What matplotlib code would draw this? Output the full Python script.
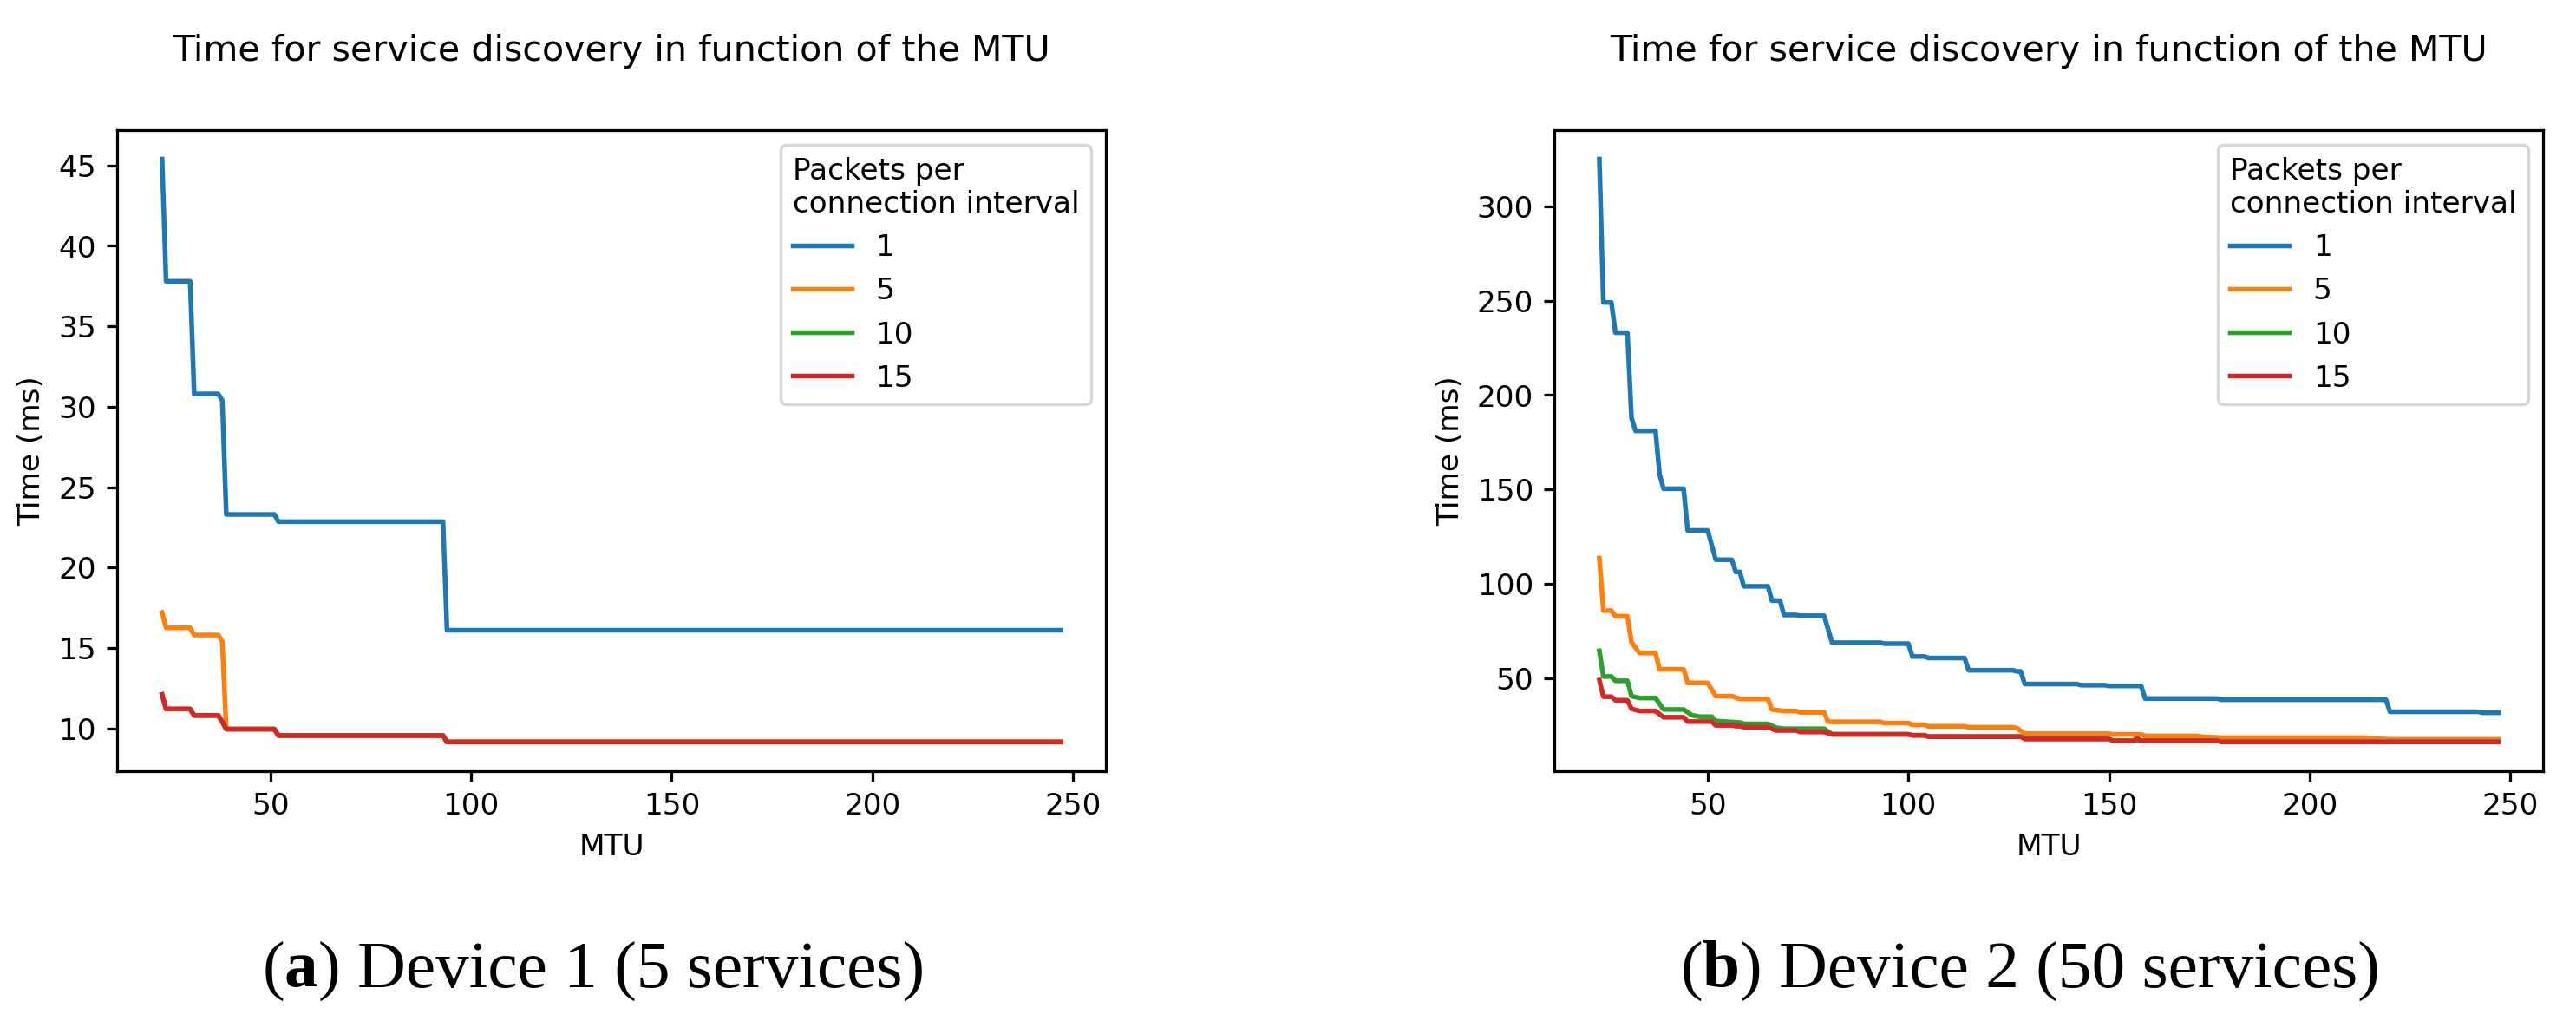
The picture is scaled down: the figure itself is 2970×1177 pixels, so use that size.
import matplotlib
matplotlib.use("Agg")
import matplotlib.pyplot as plt
from matplotlib.transforms import IdentityTransform

# ---------------- data ----------------
legend_title = "Packets per\nconnection interval"
series_labels = ["1", "5", "10", "15"]
plot_title = "Time for service discovery in function of the MTU"
x_label = "MTU"
y_label = "Time (ms)"
captions = [("a", ") Device 1 (5 services)"), ("b", ") Device 2 (50 services)")]

# Device 1 (5 services)
d1_mtu_1 = [23, 24, 30, 31, 37, 38, 39, 51, 52, 93, 94, 247]
d1_time_1 = [45.4, 37.8, 37.8, 30.8, 30.8, 30.4, 23.3, 23.3, 22.85, 22.85, 16.1, 16.1]
d1_mtu_5 = [23, 24, 30, 31, 37, 38, 39, 51, 52, 93, 94, 247]
d1_time_5 = [17.2, 16.25, 16.25, 15.8, 15.8, 15.4, 9.95, 9.95, 9.55, 9.55, 9.15, 9.15]
d1_mtu_10 = [23, 24, 30, 31, 37, 38, 39, 51, 52, 93, 94, 247]
d1_time_10 = [12.1, 11.2, 11.2, 10.8, 10.8, 10.4, 9.95, 9.95, 9.55, 9.55, 9.15, 9.15]
d1_mtu_15 = [23, 24, 30, 31, 37, 38, 39, 51, 52, 93, 94, 247]
d1_time_15 = [12.1, 11.2, 11.2, 10.8, 10.8, 10.4, 9.95, 9.95, 9.55, 9.55, 9.15, 9.15]

# Device 2 (50 services)
d2_mtu_1 = [23, 24, 26, 27, 30, 31, 32, 37, 38, 39, 44, 45, 50, 52, 56, 57,
            58, 59, 65, 66, 68, 69, 72, 73, 79, 81, 93, 94, 100, 101, 104, 105,
            114, 115, 126, 127, 128, 129, 142, 143, 149, 150, 158, 159, 177, 178,
            219, 220, 242, 243, 247]
d2_time_1 = [325, 249, 249, 233, 233, 188, 181, 181, 158, 150.3, 150.3, 128.2, 128.2, 112.7, 112.7, 106.2,
             106.2, 98.6, 98.6, 91, 91, 83.4, 83.4, 83, 83, 68.7, 68.7, 68.2, 68.2, 61.4, 61.4, 60.6,
             60.6, 54.1, 54.1, 53.5, 53.5, 46.8, 46.8, 46.2, 46.2, 45.8, 45.8, 39.1, 39.1, 38.5,
             38.5, 32.1, 32.1, 31.6, 31.6]
d2_mtu_5 = [23, 24, 26, 27, 30, 31, 33, 37, 38, 44, 45, 50, 52, 56, 58, 65,
            66, 69, 72, 73, 79, 80, 93, 94, 100, 101, 104, 105, 114, 115, 126, 127,
            129, 150, 151, 158, 159, 172, 173, 178, 214, 215, 220, 247]
d2_time_5 = [113.5, 85.7, 85.7, 82.7, 82.7, 69, 63.2, 63.2, 54.6, 54.6, 47.4, 47.4, 40.4, 40.4, 38.9, 38.9,
             33.3, 32.5, 32.5, 31.8, 31.8, 26.8, 26.8, 26.1, 26.1, 25.2, 25.2, 24.4, 24.4, 23.9, 23.9, 23.5,
             20.5, 20.5, 20.1, 20.1, 19.3, 19.3, 18.9, 18.4, 18.4, 18.0, 17.5, 17.5]
d2_mtu_10 = [23, 24, 26, 27, 30, 31, 33, 37, 39, 44, 46, 48, 51, 52, 58, 59,
             65, 67, 69, 79, 81, 100, 101, 104, 105, 128, 129, 150, 151, 177, 178, 247]
d2_time_10 = [64.4, 50.8, 50.8, 48.5, 48.5, 40.4, 39.4, 39.4, 33.3, 33.3, 30.3, 29.5, 29.5, 27.2, 26.4, 25.7,
              25.7, 23.7, 23.1, 23.1, 20.2, 20.2, 19.7, 19.7, 19.0, 19.0, 17.8, 17.8, 16.8, 16.8, 16.2, 16.2]
d2_mtu_15 = [23, 24, 26, 27, 30, 31, 33, 37, 39, 44, 45, 51, 52, 56, 57, 58,
             59, 65, 67, 72, 73, 79, 81, 100, 101, 104, 105, 128, 129, 150, 151, 156,
             157, 158, 177, 178, 247]
d2_time_15 = [48.9, 40.1, 40.1, 38.2, 38.2, 33.7, 32.5, 32.5, 29.2, 29.2, 26.9, 26.9, 24.9, 24.9, 24.5, 24.5,
              23.9, 23.9, 22.2, 22.2, 21.4, 21.4, 20.1, 20.1, 19.6, 19.6, 18.9, 18.9, 17.7, 17.7, 16.7, 16.7,
              18.1, 16.7, 16.7, 16.1, 16.1]

devices = [
    [(d1_mtu_1, d1_time_1), (d1_mtu_5, d1_time_5), (d1_mtu_10, d1_time_10), (d1_mtu_15, d1_time_15)],
    [(d2_mtu_1, d2_time_1), (d2_mtu_5, d2_time_5), (d2_mtu_10, d2_time_10), (d2_mtu_15, d2_time_15)],
]

# ---------------- figure ----------------
W, H = 2970, 1177
DPI = 247
plt.rcParams["axes.linewidth"] = 0.95
plt.rcParams["xtick.major.width"] = 0.95
plt.rcParams["ytick.major.width"] = 0.95
fig = plt.figure(figsize=(W / DPI + 0.001, H / DPI + 0.001), dpi=DPI)

axes_px = [(135, 150, 1275, 889), (1792, 150, 2932, 889)]  # left, top, right, bottom
caption_cx = [684, 2341]
caption_baseline = 1137

colors = ["C0", "C1", "C2", "C3"]

for dev, (l, t, r, b) in zip(devices, axes_px):
    ax = fig.add_axes([l / W, 1 - b / H, (r - l) / W, (b - t) / H])
    for (xs, ys), lab, c in zip(dev, series_labels, colors):
        ax.plot(xs, ys, color=c, label=lab, lw=1.6)
    ax.set_title(plot_title, fontsize=12, pad=23.3)
    ax.set_xlabel(x_label)
    ax.set_ylabel(y_label)
    ax.set_xticks([50, 100, 150, 200, 250])
    ax.legend(title=legend_title, loc="upper right", fontsize=10,
              title_fontsize=10, alignment="left")

fig.canvas.draw()
renderer = fig.canvas.get_renderer()
for cx, (letter, rest) in zip(caption_cx, captions):
    parts = [("(", "normal"), (letter, "bold"), (rest, "normal")]
    txts = []
    for s, w in parts:
        tx = fig.text(0, 0, s, family="Liberation Serif", fontsize=22.5, fontweight=w,
                      ha="left", va="baseline", transform=IdentityTransform())
        txts.append(tx)
    widths = [tx.get_window_extent(renderer).width for tx in txts]
    x0 = cx - sum(widths) / 2
    for tx, wd in zip(txts, widths):
        tx.set_position((x0, H - caption_baseline))
        x0 += wd

fig.savefig("out.png", dpi=DPI)
